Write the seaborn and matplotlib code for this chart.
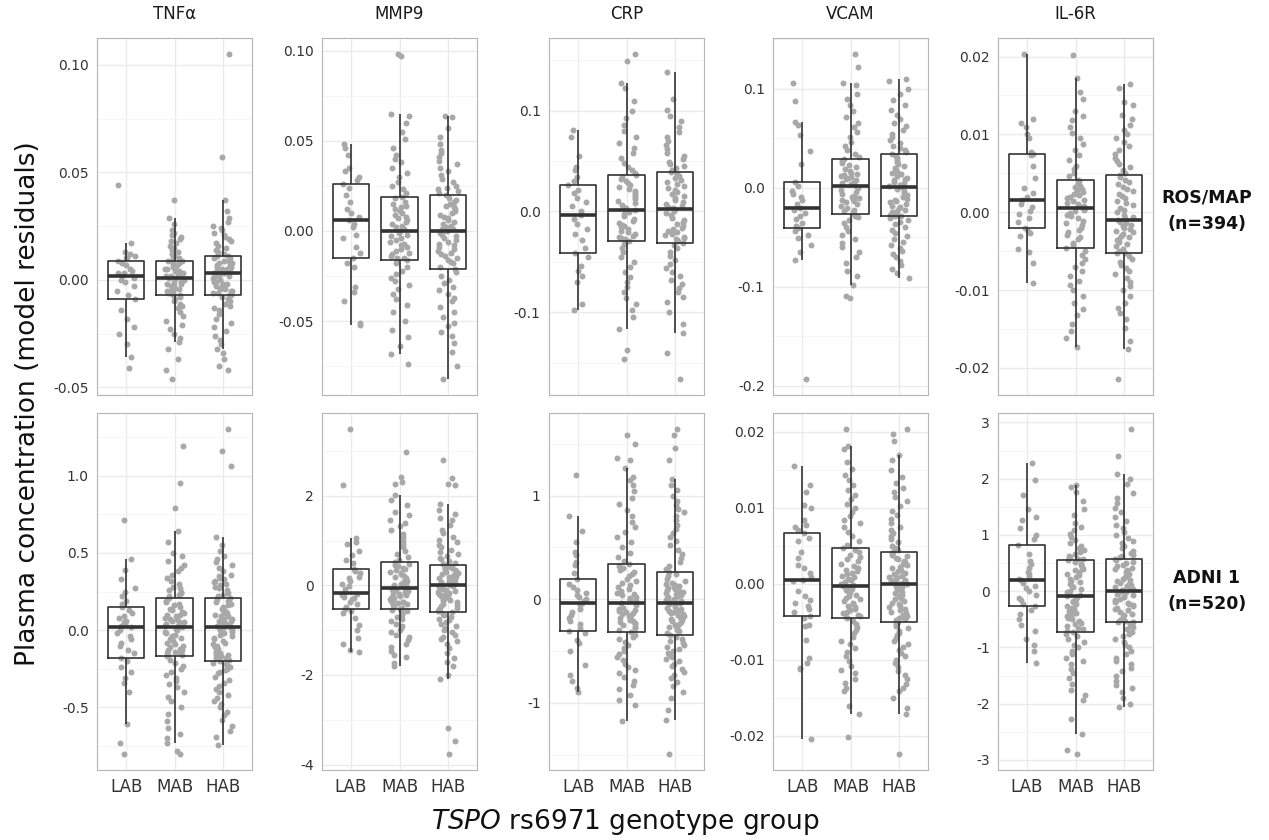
import numpy as np
import pandas as pd
import matplotlib
matplotlib.use("Agg")
import matplotlib.pyplot as plt
import seaborn as sns

# ---------------------------------------------------------------------------
# Categories
# ---------------------------------------------------------------------------
genotypes = ["LAB", "MAB", "HAB"]
markers = ["TNFα", "MMP9", "CRP", "VCAM", "IL-6R"]
cohorts = ["ROS/MAP", "ADNI 1"]
cohort_n = ["(n=394)", "(n=520)"]

# Residuals are stored as integers; multiply by the unit of each marker
ros_units = [1e-3, 1e-3, 1e-3, 1e-3, 1e-4]
adni_units = [1e-2, 1e-2, 1e-2, 1e-4, 1e-2]

# ---------------------------------------------------------------------------
# ROS/MAP residuals
# ---------------------------------------------------------------------------
tnfa_ros_lab = [44, 17, 13, 12, 11, 10, 10, 9, 8, 7, 5, 4, 3, 3, 2, 1, 0, -1, -3, -5, -7, -9,
                -14, -18, -22, -25, -30, -36, -41]
tnfa_ros_mab = [37, 29, 26, 23, 22, 21, 20, 19, 18, 17, 16, 15, 14, 13, 12, 11, 10, 10, 9,
                9, 8, 8, 7, 7, 6, 6, 5, 5, 4, 4, 3, 3, 2, 2, 2, 1, 1,
                0, 0, -1, -1, -2, -2, -3, -3, -4, -4, -5, -5, -5, -6, -6, -6, -7, -7,
                -8, -9, -10, -11, -12, -13, -15, -17, -19, -21, -23, -25, -27, -29, -32, -37, -42, -46]
tnfa_ros_hab = [105, 57, 37, 32, 29, 27, 25, 24, 23, 22, 21, 20, 19, 18, 17, 16, 15, 14, 13, 12, 11,
                11, 10, 10, 9, 9, 8, 8, 7, 7, 6, 6, 5, 5, 5, 4, 4, 4, 3, 3, 3,
                2, 2, 1, 1, 0, 0, -1, -1, -2, -2, -3, -3, -4, -4, -5, -5, -6, -6, -7, -7,
                -8, -9, -10, -11, -12, -13, -14, -16, -18, -20, -22, -24, -26, -28, -30, -32, -34, -37, -40, -42]

mmp9_ros_lab = [48, 46, 42, 35, 33, 30, 28, 26, 24, 20, 16, 12, 10, 8, 6, 4, 2, -2, -4, -9, -12, -15,
                -18, -20, -31, -34, -39, -51, -52]
mmp9_ros_mab = [98, 97, 65, 64, 60, 55, 51, 46, 42, 40, 38, 35, 32, 30, 27, 25, 23, 21, 19,
                18, 16, 15, 14, 13, 12, 11, 10, 9, 8, 7, 6, 5, 4, 3, 2, 1, 0,
                -1, -2, -3, -4, -5, -6, -7, -8, -9, -10, -11, -12, -13, -14, -15, -15, -16, -16,
                -18, -20, -22, -24, -26, -28, -30, -32, -35, -38, -41, -45, -50, -55, -59, -64, -68, -74]
mmp9_ros_hab = [64, 63, 57, 52, 48, 45, 43, 41, 39, 37, 35, 33, 31, 29, 27, 25, 24, 23, 22, 21, 20,
                18, 17, 16, 15, 14, 13, 12, 11, 10, 9, 8, 7, 6, 5, 4, 3, 2, 1, 1, 0,
                -1, -2, -3, -4, -5, -6, -7, -8, -9, -10, -11, -12, -13, -14, -15, -16, -17, -18, -20, -21,
                -23, -25, -27, -29, -31, -33, -35, -37, -39, -42, -45, -48, -51, -53, -56, -58, -62, -67, -75, -82]

crp_ros_lab = [81, 74, 55, 44, 41, 34, 30, 26, 21, 18, 13, 9, 5, 0, -4, -7, -12, -17, -22, -28, -36, -41,
               -45, -54, -59, -64, -70, -92, -98]
crp_ros_mab = [156, 149, 127, 122, 110, 100, 93, 86, 80, 74, 68, 63, 58, 53, 48, 44, 41, 38, 36,
               34, 32, 30, 28, 26, 24, 22, 20, 18, 16, 14, 12, 10, 8, 6, 4, 3, 1,
               -1, -3, -5, -7, -9, -11, -13, -14, -15, -17, -19, -20, -22, -24, -25, -26, -27, -29,
               -32, -36, -40, -45, -50, -55, -60, -65, -70, -75, -80, -86, -92, -98, -105, -117, -137, -146]
crp_ros_hab = [138, 112, 101, 95, 90, 84, 79, 74, 70, 66, 62, 58, 55, 52, 49, 47, 45, 43, 41, 40, 39,
               37, 35, 33, 31, 29, 27, 25, 23, 21, 19, 17, 15, 13, 11, 9, 7, 5, 4, 3, 2,
               0, -2, -4, -6, -8, -10, -12, -14, -16, -17, -19, -20, -22, -23, -25, -26, -27, -28, -29, -31,
               -33, -36, -40, -44, -48, -52, -56, -60, -64, -68, -72, -76, -80, -85, -90, -100, -112, -121, -140, -166]

vcam_ros_lab = [106, 88, 67, 63, 53, 37, 24, 6, 2, -3, -6, -9, -12, -16, -20, -22, -25, -28, -32, -36, -39, -41,
                -44, -48, -51, -58, -65, -73, -193]
vcam_ros_mab = [135, 122, 106, 104, 95, 90, 84, 78, 72, 66, 61, 56, 51, 46, 42, 38, 34, 31, 29,
                27, 25, 23, 21, 19, 17, 15, 14, 13, 12, 11, 10, 9, 8, 6, 5, 4, 2,
                0, -2, -4, -6, -8, -9, -10, -11, -12, -13, -14, -16, -18, -20, -22, -23, -24, -26,
                -28, -30, -33, -36, -40, -44, -48, -52, -56, -60, -65, -70, -76, -84, -89, -98, -109, -111]
vcam_ros_hab = [110, 108, 100, 95, 89, 84, 79, 74, 70, 66, 62, 58, 54, 51, 48, 45, 42, 40, 38, 36, 34,
                32, 30, 28, 26, 24, 22, 20, 18, 16, 15, 14, 12, 10, 9, 8, 6, 5, 3, 2, 1,
                -1, -3, -5, -7, -9, -11, -12, -13, -14, -16, -18, -19, -20, -22, -23, -24, -26, -27, -28, -29,
                -31, -33, -35, -37, -40, -43, -46, -49, -52, -55, -58, -61, -64, -67, -70, -74, -78, -82, -86, -91]

il6r_ros_lab = [203, 120, 114, 110, 100, 96, 77, 75, 73, 60, 44, 31, 25, 19, 16, 10, 7, 2, -2, -8, -12, -20,
                -24, -27, -30, -47, -51, -65, -91]
il6r_ros_mab = [202, 172, 154, 145, 130, 123, 118, 110, 102, 95, 88, 80, 73, 67, 60, 55, 50, 46, 42,
                40, 37, 34, 32, 30, 28, 26, 24, 22, 20, 18, 16, 14, 12, 10, 8, 7, 5,
                3, 1, -1, -3, -5, -8, -11, -14, -17, -20, -23, -26, -29, -32, -35, -39, -42, -46,
                -50, -55, -60, -65, -70, -76, -82, -88, -94, -100, -108, -116, -124, -132, -143, -153, -162, -173]
il6r_ros_hab = [165, 160, 142, 138, 125, 120, 112, 105, 100, 95, 90, 85, 80, 75, 70, 66, 62, 58, 54, 51, 48,
                45, 42, 39, 36, 33, 30, 27, 24, 21, 18, 15, 12, 9, 6, 3, 0, -3, -6, -8, -10,
                -12, -14, -16, -18, -20, -22, -24, -26, -28, -30, -32, -34, -36, -38, -41, -44, -47, -50, -52, -53,
                -56, -60, -64, -68, -72, -76, -80, -85, -90, -95, -100, -108, -116, -123, -130, -137, -149, -165, -176, -214]

# ---------------------------------------------------------------------------
# ADNI 1 residuals
# ---------------------------------------------------------------------------
tnfa_adni_lab = [71, 46, 39, 33, 27, 25, 22, 19, 17, 15, 13, 11, 9, 8, 6, 5, 4, 3, 2,
                 0, -2, -4, -6, -8, -10, -13, -15, -18, -20, -24, -27, -31, -34, -40, -61, -73, -80]
tnfa_adni_mab = [119, 95, 79, 64, 57, 50, 48, 45, 42, 40, 38, 36, 34, 32, 30, 28, 27, 26, 25, 24, 23, 22, 21,
                 19, 18, 17, 16, 15, 14, 13, 12, 11, 10, 10, 9, 8, 7, 7, 6, 5, 5, 4, 3, 3, 2,
                 1, 0, -1, -2, -3, -4, -5, -6, -7, -8, -9, -10, -11, -12, -13, -13, -14, -15, -15, -16, -16, -17,
                 -19, -21, -23, -25, -27, -29, -31, -33, -35, -37, -40, -43, -46, -50, -54, -59, -63, -67, -70,
                 -73, -78, -80]
tnfa_adni_hab = [130, 116, 106, 60, 55, 51, 48, 46, 44, 42, 40, 38, 36, 35, 34, 33, 32, 31, 30, 29, 28, 27,
                 26, 24, 23, 22, 21,
                 20, 19, 18, 17, 16, 15, 14, 13, 12, 11, 11, 10, 9, 9, 8, 7, 7, 6, 6, 5, 5, 4, 3, 3, 2, 2,
                 1, 0, 0, -1, -2, -3, -4, -5, -6, -7, -8, -9, -10, -11, -12, -13, -14, -14, -15, -16, -16,
                 -17, -18, -18, -19, -20,
                 -21, -22, -23, -24, -25, -26, -27, -28, -30, -32, -34, -36, -38, -40, -42, -44, -46, -48, -50,
                 -53, -55, -58, -62, -65, -69, -74]

mmp9_adni_lab = [349, 225, 106, 98, 92, 76, 68, 57, 50, 37, 33, 27, 20, 16, 9, 3, -2, -8, -16,
                 -18, -22, -25, -28, -31, -36, -42, -48, -52, -56, -62, -73, -88, -99, -118, -130, -145, -149]
mmp9_adni_mab = [299, 243, 231, 226, 201, 191, 180, 165, 158, 147, 140, 132, 124, 116, 108, 100, 92, 85, 78,
                 70, 63, 57, 52,
                 49, 46, 43, 40, 37, 34, 31, 28, 25, 22, 19, 16, 13, 10, 8, 6, 4, 2, 0, -2, -4, -6,
                 -8, -10, -12, -14, -16, -18, -20, -22, -24, -26, -28, -30, -32, -34, -36, -38, -40, -42, -44,
                 -47, -50, -52,
                 -55, -58, -62, -66, -70, -75, -80, -85, -90, -95, -100, -105, -110, -116, -122, -130, -138,
                 -147, -155, -160, -173, -181]
mmp9_adni_hab = [280, 239, 226, 224, 181, 169, 160, 150, 146, 135, 125, 117, 109, 102, 96, 90, 85, 80, 75, 70,
                 66, 62, 58, 54, 51, 48, 46,
                 44, 42, 40, 38, 36, 34, 32, 30, 28, 26, 24, 22, 20, 18, 16, 14, 12, 10, 9, 8, 6, 5, 4, 2, 1, 0,
                 -2, -4, -6, -8, -10, -12, -14, -16, -18, -20, -22, -24, -26, -28, -30, -32, -35, -38, -41, -44,
                 -47, -50, -53, -56, -58, -60,
                 -63, -66, -70, -74, -78, -82, -86, -90, -95, -100, -105, -110, -115, -120, -125, -130, -140,
                 -151, -162, -172, -181, -199, -210, -318, -348, -376]

crp_adni_lab = [120, 80, 66, 55, 46, 43, 36, 33, 25, 20, 15, 12, 9, 6, 4, 2, 0, -2, -4,
                -6, -9, -12, -15, -18, -21, -24, -28, -31, -33, -39, -42, -50, -63, -73, -79, -86, -89]
crp_adni_mab = [158, 150, 136, 134, 127, 118, 115, 110, 104, 98, 92, 86, 80, 75, 70, 65, 60, 55, 50, 45, 41,
                37, 34,
                32, 30, 28, 26, 24, 22, 20, 18, 16, 14, 12, 10, 8, 6, 5, 4, 2, 1, 0, -1, -2, -4,
                -6, -8, -9, -10, -11, -12, -13, -14, -15, -16, -17, -18, -20, -21, -22, -23, -24, -25, -27,
                -28, -30, -32,
                -34, -36, -38, -41, -44, -47, -50, -53, -56, -59, -62, -65, -68, -71, -75, -79, -83, -87, -92,
                -97, -102, -117]
crp_adni_hab = [164, 158, 146, 134, 116, 110, 105, 100, 95, 91, 87, 84, 80, 76, 72, 68, 64, 60, 56, 52, 48,
                44, 40, 36, 32, 29, 26,
                24, 22, 20, 18, 16, 15, 14, 13, 12, 11, 10, 9, 8, 7, 6, 5, 4, 3, 2, 1, 0, -1, -2, -3, -3, -4,
                -5, -6, -7, -8, -9, -10, -11, -12, -13, -14, -15, -16, -17, -18, -19, -20, -21, -22, -24, -25,
                -27, -28, -30, -31, -33, -34,
                -36, -38, -40, -42, -44, -46, -48, -50, -52, -54, -56, -58, -60, -62, -64, -67, -70, -73, -76,
                -80, -84, -89, -95, -107, -116, -149]

vcam_adni_lab = [154, 129, 120, 103, 100, 84, 77, 74, 70, 66, 60, 56, 42, 33, 25, 20, 14, 8, 5,
                 3, -10, -17, -22, -26, -30, -34, -37, -43, -46, -54, -56, -74, -98, -105, -111, -113, -205]
vcam_adni_mab = [203, 181, 177, 160, 151, 143, 136, 129, 123, 117, 111, 105, 99, 94, 89, 84, 79, 74, 68, 62,
                 56, 51, 47,
                 44, 41, 38, 35, 32, 29, 26, 23, 20, 18, 16, 14, 12, 10, 8, 6, 4, 2, 0, -1, -2, -3,
                 -5, -7, -9, -11, -13, -15, -17, -19, -21, -23, -25, -27, -29, -31, -33, -35, -37, -39, -41,
                 -43, -44, -46,
                 -49, -53, -57, -61, -65, -70, -75, -80, -85, -90, -96, -102, -108, -114, -118, -125, -131,
                 -137, -142, -161, -172, -202]
vcam_adni_hab = [203, 197, 188, 169, 162, 150, 140, 132, 126, 120, 114, 108, 102, 96, 90, 85, 80, 75, 70, 66,
                 62, 58, 54, 50, 47, 44, 42,
                 40, 38, 36, 34, 32, 30, 28, 26, 24, 22, 20, 18, 16, 14, 12, 10, 9, 8, 6, 5, 4, 3, 2, 1, 0, -1,
                 -3, -5, -7, -9, -11, -13, -15, -17, -19, -21, -23, -25, -27, -29, -31, -33, -35, -37, -39,
                 -41, -43, -44, -45, -47, -48, -50,
                 -53, -56, -59, -62, -65, -68, -72, -76, -80, -84, -88, -92, -96, -100, -105, -110, -115, -120,
                 -126, -132, -137, -142, -150, -164, -172, -224]

il6r_adni_lab = [228, 198, 171, 147, 132, 126, 113, 100, 92, 83, 66, 54, 48, 41, 35, 30, 26, 22, 20,
                 15, 10, 5, 0, -6, -12, -16, -22, -27, -33, -40, -50, -60, -70, -85, -95, -106, -127]
il6r_adni_mab = [188, 186, 177, 160, 147, 135, 122, 115, 108, 102, 96, 91, 86, 81, 77, 73, 69, 66, 63, 60,
                 58, 57, 55,
                 52, 49, 46, 43, 40, 37, 34, 31, 28, 25, 22, 19, 16, 13, 10, 7, 4, 1, -2, -5, -7, -9,
                 -11, -14, -17, -20, -23, -26, -29, -32, -35, -38, -41, -44, -47, -50, -53, -56, -59, -62,
                 -65, -68, -70, -72,
                 -76, -80, -85, -90, -95, -100, -106, -112, -118, -124, -130, -138, -146, -155, -165, -176,
                 -185, -193, -227, -253, -283, -289]
il6r_adni_hab = [288, 241, 208, 200, 190, 175, 165, 156, 148, 140, 132, 125, 118, 112, 106, 100, 95, 90, 85,
                 80, 76, 72, 68, 65, 62, 60, 58,
                 55, 52, 50, 47, 45, 42, 40, 37, 35, 32, 30, 27, 25, 22, 20, 18, 15, 13, 11, 9, 7, 5, 4, 3, 2, 1,
                 -1, -3, -5, -7, -9, -11, -13, -15, -17, -19, -21, -23, -25, -27, -29, -31, -34, -37, -40,
                 -43, -46, -49, -51, -53, -54, -55,
                 -58, -61, -64, -68, -72, -76, -80, -85, -90, -95, -100, -106, -112, -118, -124, -130, -136,
                 -142, -150, -159, -166, -172, -180, -190, -200, -206]

# ---------------------------------------------------------------------------
# Axis ticks per panel
# ---------------------------------------------------------------------------
ros_ticks = [[-0.05, 0.0, 0.05, 0.10], [-0.05, 0.0, 0.05, 0.10], [-0.1, 0.0, 0.1],
             [-0.2, -0.1, 0.0, 0.1], [-0.02, -0.01, 0.0, 0.01, 0.02]]
ros_ticklabels = [["-0.05", "0.00", "0.05", "0.10"], ["-0.05", "0.00", "0.05", "0.10"],
                  ["-0.1", "0.0", "0.1"], ["-0.2", "-0.1", "0.0", "0.1"],
                  ["-0.02", "-0.01", "0.00", "0.01", "0.02"]]
adni_ticks = [[-0.5, 0.0, 0.5, 1.0], [-4, -2, 0, 2], [-1, 0, 1],
              [-0.02, -0.01, 0.0, 0.01, 0.02], [-3, -2, -1, 0, 1, 2, 3]]
adni_ticklabels = [["-0.5", "0.0", "0.5", "1.0"], ["-4", "-2", "0", "2"], ["-1", "0", "1"],
                   ["-0.02", "-0.01", "0.00", "0.01", "0.02"],
                   ["-3", "-2", "-1", "0", "1", "2", "3"]]

ros_sets = [[tnfa_ros_lab, tnfa_ros_mab, tnfa_ros_hab],
            [mmp9_ros_lab, mmp9_ros_mab, mmp9_ros_hab],
            [crp_ros_lab, crp_ros_mab, crp_ros_hab],
            [vcam_ros_lab, vcam_ros_mab, vcam_ros_hab],
            [il6r_ros_lab, il6r_ros_mab, il6r_ros_hab]]
adni_sets = [[tnfa_adni_lab, tnfa_adni_mab, tnfa_adni_hab],
             [mmp9_adni_lab, mmp9_adni_mab, mmp9_adni_hab],
             [crp_adni_lab, crp_adni_mab, crp_adni_hab],
             [vcam_adni_lab, vcam_adni_mab, vcam_adni_hab],
             [il6r_adni_lab, il6r_adni_mab, il6r_adni_hab]]

rows = []
for cohort, sets, units in zip(cohorts, [ros_sets, adni_sets], [ros_units, adni_units]):
    for marker, groups, unit in zip(markers, sets, units):
        for g, vals in zip(genotypes, groups):
            for v in vals:
                rows.append((cohort, marker, g, v * unit))
df = pd.DataFrame(rows, columns=["cohort", "marker", "genotype", "residual"])

# ---------------------------------------------------------------------------
# Figure
# ---------------------------------------------------------------------------
sns.set_style("white")
plt.rcParams["font.family"] = ["DejaVu Sans"]
np.random.seed(7)

W, H = 1269, 840
fig = plt.figure(figsize=(W / 100, H / 100), dpi=100)

lefts = [97, 322, 549, 773, 998]
panel_w = 155
tops = [38, 413]
bottoms = [395, 770]

POINT = "#A8A8A8"
LINE = "#333333"
GRID = "#EBEBEB"
BORDER = "#B5B5B5"
TEXT = "#333333"

all_ticks = [ros_ticks, adni_ticks]
all_labels = [ros_ticklabels, adni_ticklabels]

for r, cohort in enumerate(cohorts):
    for c, marker in enumerate(markers):
        ax = fig.add_axes([lefts[c] / W, 1 - bottoms[r] / H,
                           panel_w / W, (bottoms[r] - tops[r]) / H])
        sub = df[(df["cohort"] == cohort) & (df["marker"] == marker)]

        sns.stripplot(data=sub, x="genotype", y="residual", order=genotypes,
                      jitter=0.2, color=POINT, size=4.3, linewidth=0, ax=ax, zorder=1)
        sns.boxplot(data=sub, x="genotype", y="residual", order=genotypes,
                    width=0.75, fill=False, color=LINE, linewidth=1.2,
                    showfliers=False, showcaps=False, whis=1.5,
                    medianprops=dict(linewidth=2.6, color=LINE), ax=ax)

        # y range: data extent plus 5% on each side
        lo, hi = sub["residual"].min(), sub["residual"].max()
        span = hi - lo
        ylo, yhi = lo - 0.05 * span, hi + 0.05 * span

        ticks = all_ticks[r][c]
        ax.set_yticks(ticks)
        ax.set_yticklabels(all_labels[r][c])
        step = ticks[1] - ticks[0]
        minor = np.arange(ticks[0] - step / 2, ticks[-1] + step, step)
        minor = minor[(minor > ylo) & (minor < yhi)]
        ax.set_yticks(minor, minor=True)
        ax.set_ylim(ylo, yhi)
        ax.set_xlim(-0.6, 2.6)

        ax.set_axisbelow(True)
        ax.grid(False)
        ax.yaxis.grid(True, which="major", color=GRID, linewidth=1.0)
        ax.yaxis.grid(True, which="minor", color="#F4F4F4", linewidth=0.6)
        ax.xaxis.grid(True, which="major", color=GRID, linewidth=1.0)

        ax.tick_params(axis="y", which="major", length=4, width=0.9, color=LINE,
                       labelsize=10, labelcolor=TEXT, pad=2)
        ax.tick_params(axis="y", which="minor", length=0)
        if r == 1:
            ax.tick_params(axis="x", length=4, width=0.9, color=LINE,
                           labelsize=12, labelcolor=TEXT, pad=2)
        else:
            ax.tick_params(axis="x", length=0, labelbottom=False)

        for s in ax.spines.values():
            s.set_color(BORDER)
            s.set_linewidth(0.8)
        ax.set_xlabel("")
        ax.set_ylabel("")

        if r == 0:
            fig.text((lefts[c] + panel_w / 2) / W, 1 - 14 / H, marker,
                     ha="center", va="center", fontsize=12, color="#1A1A1A")

# cohort labels on the right
label_y = [(197, 224), (578, 604)]
for cohort, n_text, (y1, y2) in zip(cohorts, cohort_n, label_y):
    fig.text(1207 / W, 1 - y1 / H, cohort, ha="center", va="center",
             fontsize=12.5, fontweight="bold", color="#111111")
    fig.text(1207 / W, 1 - y2 / H, n_text, ha="center", va="center",
             fontsize=12.5, fontweight="bold", color="#111111")

fig.text(28 / W, 1 - 404 / H, "Plasma concentration (model residuals)",
         rotation=90, ha="center", va="center", fontsize=19, color="#111111")
fig.text(625 / W, 1 - 822 / H, r"$\it{TSPO}$ rs6971 genotype group",
         ha="center", va="center", fontsize=19, color="#111111")

fig.savefig("out.png", dpi=100)
